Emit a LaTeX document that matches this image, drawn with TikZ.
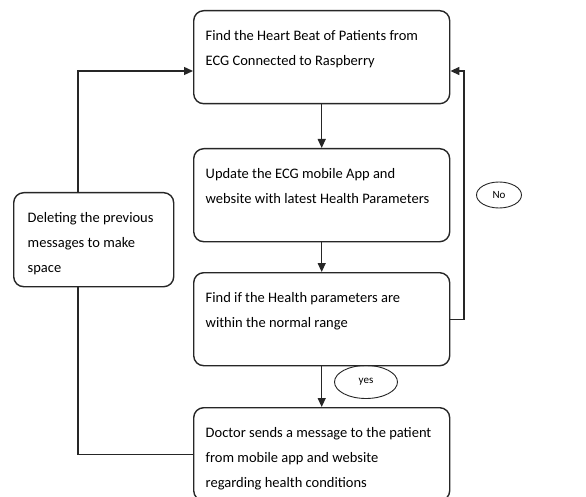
\documentclass[tikz,border=0pt]{standalone}
\usepackage{fontspec}
\setmainfont{Carlito}
\usetikzlibrary{shapes.geometric, arrows.meta}

\tikzset{
  stepbox/.style={draw=black!85, line width=1.4pt, rounded corners=10pt, anchor=north west,
    inner xsep=12pt, inner ysep=20pt, font=\fontsize{14.5}{25}\selectfont},
  tag/.style={draw=black!85, line width=0.9pt, ellipse, inner sep=0pt, font=\fontsize{11}{12}\selectfont},
  link/.style={draw=black!85, line width=1.3pt, >={Stealth[length=9pt, width=8pt, inset=0pt]}},
}
\newcommand{\boxtext}[3]{\parbox[t][#1][t]{#2}{\raggedright #3}}

\begin{document}
\begin{tikzpicture}[x=1pt,y=-1pt]
    \useasboundingbox (0,0) rectangle (586,497);

    % boxes
    \node[stepbox] (beat) at (193,10) {\boxtext{53pt}{232pt}{Find the Heart Beat of Patients from\\ECG Connected to Raspberry}};
    \node[stepbox] (update) at (193,148) {\boxtext{53pt}{232pt}{Update the ECG mobile App and\\website with latest Health Parameters}};
    \node[stepbox] (check) at (193,272) {\boxtext{53pt}{232pt}{Find if the Health parameters are\\within the normal range}};
    \node[stepbox] (send) at (193,407) {\boxtext{53pt}{232pt}{Doctor sends a message to the patient\\from mobile app and website\\regarding health conditions}};
    \node[stepbox, inner xsep=14pt] (delete) at (13,192) {\boxtext{54pt}{132pt}{Deleting the previous\\messages to make\\space}};

    % yes / no
    \node[tag, minimum width=45pt, minimum height=26pt] (no) at (499,195) {No};
    \node[tag, minimum width=63pt, minimum height=33pt] (yes) at (366,382) {yes};

    % links
    \coordinate (ltop) at (78,71);
    \coordinate (rtop) at (464,71);
    \draw[link, ->] (beat) -- (update);
    \draw[link, ->] (update) -- (check);
    \draw[link, ->] (check) -- (send);
    %% back to the top
    \draw[link, ->] (check.east) -| (rtop) -- (beat.east |- rtop);
    \draw[link, ->] (delete.north -| ltop) -- (ltop) -- (beat.west |- ltop);
    \draw[link] (delete.south -| ltop) |- (send.west);

\end{tikzpicture}
\end{document}
